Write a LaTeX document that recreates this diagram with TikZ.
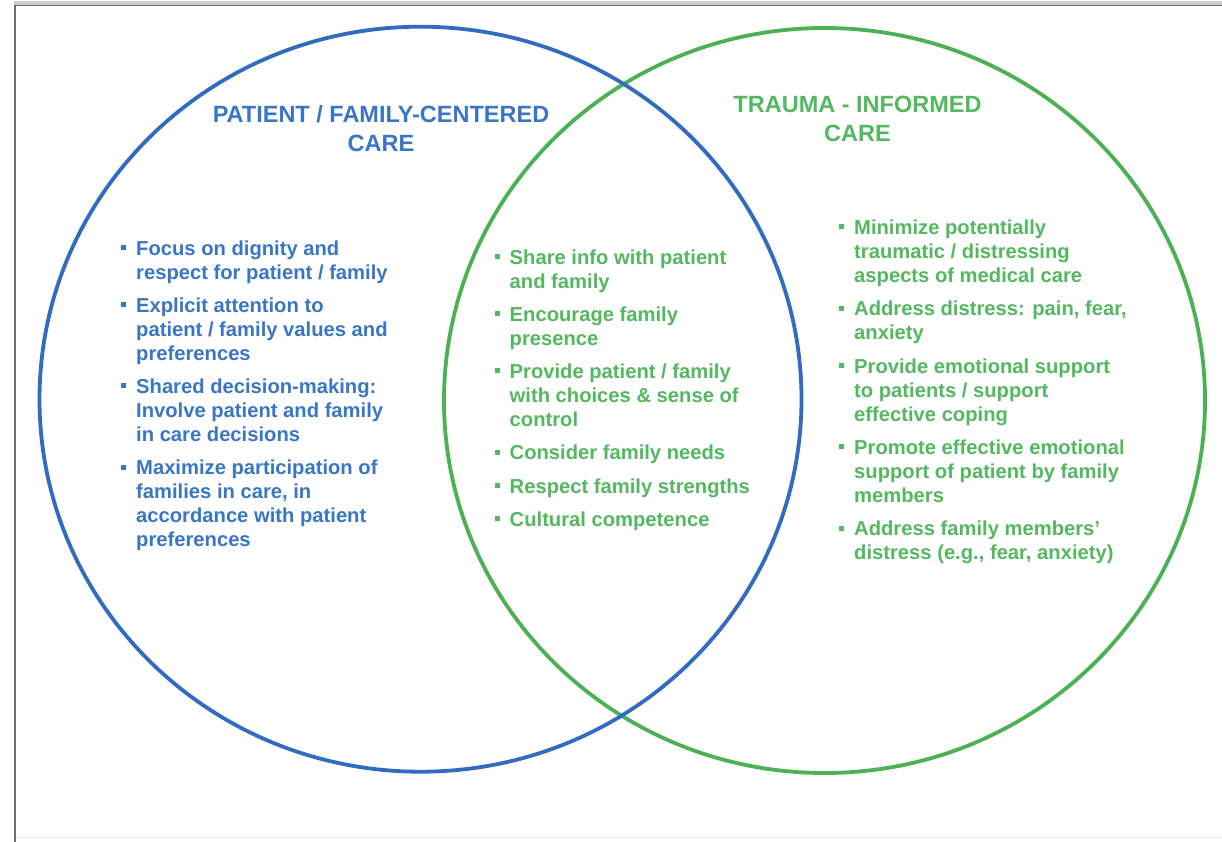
\documentclass[tikz,border=0pt]{standalone}
\usepackage{fontspec}
\setmainfont{Liberation Sans}
\definecolor{cblue}{RGB}{50,108,192}
\definecolor{tblue}{RGB}{58,118,198}
\definecolor{cgreen}{RGB}{76,176,84}
\definecolor{tgreen}{RGB}{84,184,96}
\definecolor{framegray}{RGB}{110,110,110}
\definecolor{bandgray}{RGB}{204,204,204}
\newcommand{\sqbul}{\llap{\rule[5.2pt]{5pt}{5pt}\hspace{9.8pt}}}
\newcommand{\vitem}{\par\noindent\sqbul}
\newcommand{\blockfont}{\fontsize{20.2}{24}\selectfont\bfseries\raggedright\parskip=9.3pt\relax}
\tikzset{
  ring/.style={line width=3.8pt},
  listblock/.style={inner sep=0pt, anchor=base west},
  titlebox/.style={inner sep=0pt, anchor=base, font=\fontsize{23.5}{29}\selectfont\bfseries},
}
\begin{document}
\begin{tikzpicture}[x=1pt,y=-1pt]
\useasboundingbox (0,0) rectangle (1222,842);
\fill[white] (0,0) rectangle (1222,842);
% frame of the screenshot
\fill[bandgray] (14,1) rectangle (1222,5);
\draw[framegray, line width=1.2pt] (14,5.6) -- (1222,5.6);
\draw[framegray, line width=1.6pt] (14.8,5) -- (14.8,842);
\draw[black!8, line width=1pt] (16,837.5) -- (1222,837.5);
% circles
\draw[ring, cgreen] (824.5,400.5) ellipse [x radius=380.5, y radius=372.5];
\draw[ring, cblue] (420.5,399.2) ellipse [x radius=381, y radius=372.5];
% titles
\node[titlebox, text=tblue] (ltitle) at (381,123)
  {\parbox[t]{420pt}{\centering PATIENT / FAMILY-CENTERED\\CARE}};
\node[titlebox, text=tgreen] (rtitle) at (857.5,113)
  {\parbox[t]{420pt}{\centering TRAUMA - INFORMED\\CARE}};
% left list
\node[listblock, text=tblue] (llist) at (136,255) {\parbox[t]{300pt}{\blockfont
\noindent\sqbul Focus on dignity and\\respect for patient / family
\vitem Explicit attention to\\patient / family values and\\preferences
\vitem Shared decision-making:\\Involve patient and family\\in care decisions
\vitem Maximize participation of\\families in care, in\\accordance with patient\\preferences}};
% middle list
\node[listblock, text=tgreen] (mlist) at (509.5,264) {\parbox[t]{300pt}{\blockfont
\noindent\sqbul Share info with patient\\and family
\vitem Encourage family\\presence
\vitem Provide patient / family\\with choices \& sense of\\control
\vitem Consider family needs
\vitem Respect family strengths
\vitem Cultural competence}};
% right list
\node[listblock, text=tgreen] (rlist) at (854,234.5) {\parbox[t]{320pt}{\blockfont
\noindent\sqbul Minimize potentially\\traumatic / distressing\\aspects of medical care
\vitem Address distress: pain, fear,\\anxiety
\vitem Provide emotional support\\to patients / support\\effective coping
\vitem Promote effective emotional\\support of patient by family\\members
\vitem Address family members’\\distress (e.g., fear, anxiety)}};
\end{tikzpicture}
\end{document}
